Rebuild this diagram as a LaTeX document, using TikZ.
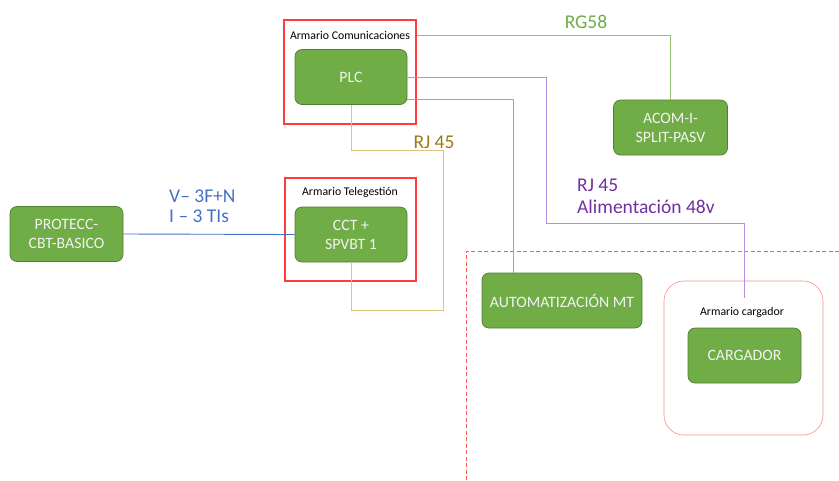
\documentclass[tikz,border=0pt]{standalone}
\usepackage{fontspec}
\setmainfont{Carlito}
\usepackage{tikz}

\definecolor{boxgreen}{HTML}{70AD47}
\definecolor{boxedge}{HTML}{507E32}
\colorlet{cableverde}{boxgreen!75}
\definecolor{rjpurple}{HTML}{B68FDF}
\definecolor{rjtext}{HTML}{7030A0}
\definecolor{rjtan}{HTML}{E2C27F}
\definecolor{rjtantext}{HTML}{9C7A12}
\definecolor{vblue}{HTML}{4472C4}
\definecolor{armred}{HTML}{FF3B3B}
\definecolor{cargred}{HTML}{FF8A8A}

\begin{document}
\begin{tikzpicture}[x=1pt, y=-1pt,
        equipo/.style={draw=boxedge, fill=boxgreen, text=white!95!black, rounded corners=7pt,
            line width=.7pt, align=center, font=\fontsize{15.8}{19}\selectfont,
            inner sep=0pt, minimum width=112pt, minimum height=55pt},
        armario/.style={draw=armred, line width=1.2pt, inner sep=0pt},
        armtxt/.style={font=\fontsize{11.8}{14}\selectfont, inner sep=0pt},
        cable/.style={line width=.9pt},
        cabletxt/.style={font=\fontsize{19.5}{22}\selectfont, align=left, inner sep=0pt}]
        \useasboundingbox (0,0) rectangle (839,480);

        % armarios
        \node[armario, minimum width=132pt, minimum height=104pt] (frcom) at (350,72) {};
        \node[armtxt] (lblcom) at (350,35.5) {Armario Comunicaciones};
        \node[armario, minimum width=131pt, minimum height=103pt] (frtel) at (350.5,229.5) {};
        \node[armtxt] (lbltel) at (350,192) {Armario Telegesti\'on};
        \node[draw=cargred, line width=.6pt, rounded corners=20pt, inner sep=0pt,
            minimum width=159pt, minimum height=154pt] (frcarg) at (743.5,358) {};
        \node[armtxt] (lblcarg) at (742,312) {Armario cargador};

        % equipos
        \node[equipo] (plc) at (351,77) {PLC};
        \node[equipo] (cct) at (351,234.5) {CCT +\\SPVBT 1};
        \node[equipo, minimum width=113pt] (prot) at (66.5,234) {PROTECC-\\CBT-BASICO};
        \node[equipo, minimum width=114pt] (acom) at (670.5,127.5) {ACOM-I-\\SPLIT-PASV};
        \node[equipo, minimum width=160pt] (auto) at (562,300.5) {AUTOMATIZACI\'ON MT};
        \node[equipo, minimum width=113pt] (carg) at (744.5,355.5) {CARGADOR};

        % zona MT
        \draw[armred!85, line width=1pt, dash pattern=on 4pt off 2.5pt] (466,480) |- (839,251);

        % cables
        \coordinate (rgsal) at (frcom.east |- lblcom);
        \draw[cable, cableverde, line width=1pt] (rgsal) -| (acom.north);
        \coordinate (cgin) at (744,298);
        \draw[cable, rjpurple] (plc.east) -| (546,223) -| (cgin);
        \draw[cable, rjpurple] ([yshift=-22pt]plc.east) -| ([xshift=-49pt]auto.north);
        \draw[cable, rjtan] (plc.south) |- (443,150) |- ([yshift=-48pt]cct.south) -- (cct.south);
        \draw[cable, vblue] (prot.east) -- (cct.west);

        % etiquetas
        \node[cabletxt, text=boxgreen] (rg) at (586,22) {RG58};
        \node[cabletxt, text=rjtantext] (rjplc) at (434,142) {RJ 45};
        \node[cabletxt, text=rjtext, anchor=west] (rjalim) at (577,196) {RJ 45\\Alimentaci\'on 48v};
        \node[cabletxt, text=vblue, anchor=west, font=\fontsize{19.5}{20}\selectfont] (vi) at (169,206) {V-- 3F+N\\I -- 3 TIs};
    \end{tikzpicture}
\end{document}
